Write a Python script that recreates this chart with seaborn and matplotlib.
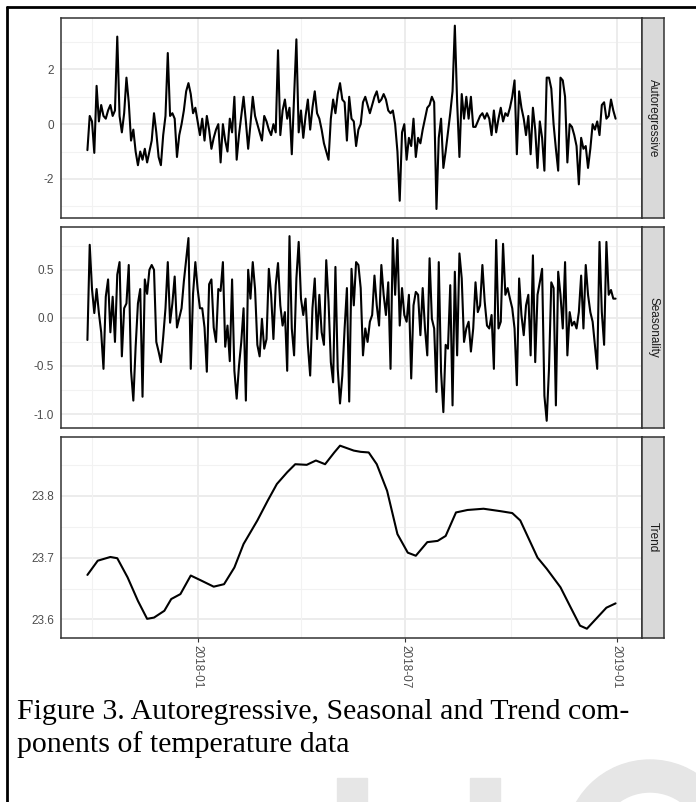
import pandas as pd
import numpy as np
import seaborn as sns
import matplotlib.pyplot as plt
from matplotlib.patches import Rectangle, Wedge

ar_values = [
    -0.95, 0.3, 0.1, -1.05, 1.4, 0.1, 0.7, 0.3, 0.2, 0.5,
    0.7, 0.3, 0.5, 3.2, 0.3, -0.3, 0.4, 1.7, 0.8, -0.6,
    -0.2, -1.0, -1.5, -1.0, -1.3, -0.9, -1.4, -1.0, -0.6, 0.4,
    -0.3, -1.2, -1.5, -0.4, 0.3, 2.6, 0.3, 0.4, 0.2, -1.2,
    -0.4, 0.0, 0.5, 1.2, 1.5, 1.1, 0.4, 0.6, 0.1, -0.4,
    0.2, -0.6, 0.3, -0.2, -0.9, -0.5, -0.2, 0.0, -1.4, 0.0,
    -0.6, -1.0, 0.2, -0.3, 1.0, -1.3, -0.4, 0.3, 1.0, 0.1,
    -0.9, 0.0, 1.0, 0.3, 0.0, -0.3, -0.6, 0.3, 0.1, -0.2,
    -0.4, 0.0, -0.3, 2.7, -0.4, 0.5, 0.9, 0.2, 0.6, -1.1,
    1.0, 3.1, -0.3, 0.5, -0.5, 0.3, 0.9, -0.2, 0.6, 1.2,
    0.4, 0.2, -0.2, -0.7, -1.0, -1.3, 0.2, 0.9, 0.4, 1.1,
    1.5, 0.9, 0.8, -0.6, 1.0, 0.2, 0.1, -0.8, -0.2, 0.0,
    0.8, 1.0, 0.7, 0.4, 0.7, 1.0, 1.2, 0.8, 0.9, 1.1,
    0.9, 0.5, 0.4, 0.5, 0.0, -1.0, -2.8, -0.3, 0.0, -1.3,
    -0.5, -0.8, 0.2, -1.2, -0.5, -0.7, -0.2, 0.2, 0.6, 0.7,
    1.0, 0.8, -3.1, -0.5, 0.2, -1.6, -1.0, -0.3, 0.4, 1.2,
    3.6, 0.8, -1.2, 1.1, 0.2, 1.0, 0.2, 1.0, -0.1, -0.1,
    0.1, 0.3, 0.4, 0.2, 0.4, 0.2, -0.4, 0.5, -0.3, 0.2,
    0.6, 0.1, 0.4, 0.3, 0.6, 1.0, 1.6, -1.1, 1.2, 0.6,
    0.2, -0.4, 0.3, -1.1, 0.6, -0.2, -1.6, 0.1, -0.5, -1.7,
    1.7, 1.7, 1.3, 0.0, -0.9, -1.7, 1.7, 1.6, 1.0, -1.4,
    0.0, -0.1, -0.4, -0.8, -2.2, -0.5, -0.9, -0.8, -1.6, -0.9,
    0.0, -0.2, 0.1, -0.4, 0.7, 0.8, 0.2, 0.3, 0.9, 0.5,
    0.2,
]

season_values = [
    -0.23, 0.76, 0.30, 0.05, 0.30, 0.05, -0.15, -0.53, 0.22, 0.40,
    -0.15, 0.22, -0.25, 0.45, 0.58, -0.40, 0.10, 0.15, 0.55, -0.55,
    -0.86, -0.30, 0.15, 0.30, -0.82, 0.40, 0.25, 0.50, 0.55, 0.50,
    -0.25, -0.35, -0.46, -0.20, 0.10, 0.58, -0.05, 0.15, 0.43, -0.10,
    0.00, 0.10, 0.38, 0.60, 0.83, -0.53, 0.25, 0.58, 0.30, 0.10,
    0.10, -0.10, -0.56, 0.35, 0.40, -0.10, -0.25, 0.30, 0.28, 0.58,
    -0.30, -0.08, -0.45, 0.40, -0.55, -0.84, -0.50, -0.25, 0.10, -0.86,
    0.50, 0.20, 0.58, 0.30, -0.28, -0.40, -0.01, -0.32, -0.22, 0.51,
    0.24, -0.22, 0.34, 0.57, 0.13, -0.08, 0.06, -0.55, 0.85, -0.11,
    -0.39, 0.41, 0.79, 0.20, 0.03, 0.20, -0.28, -0.60, 0.10, 0.41,
    -0.22, 0.24, -0.15, -0.28, 0.60, 0.17, -0.46, -0.67, 0.53, -0.53,
    -0.89, -0.60, -0.11, 0.31, -0.87, 0.51, 0.13, 0.58, 0.55, 0.31,
    -0.39, -0.11, -0.25, -0.04, 0.03, 0.44, 0.13, -0.08, 0.55, 0.24,
    0.03, 0.37, -0.53, 0.83, 0.24, 0.81, -0.08, 0.31, 0.03, -0.04,
    0.24, -0.63, 0.13, 0.27, 0.24, -0.18, 0.31, -0.11, -0.39, 0.62,
    -0.01, -0.11, -0.77, 0.58, -0.56, -0.98, -0.28, -0.32, 0.34, -0.91,
    0.48, -0.39, 0.67, 0.41, -0.25, -0.11, -0.04, -0.35, -0.11, 0.37,
    0.06, 0.13, 0.55, 0.17, -0.08, -0.11, 0.03, -0.53, 0.81, -0.11,
    -0.04, 0.77, 0.24, 0.31, 0.20, 0.10, -0.11, -0.70, 0.41, 0.03,
    -0.18, 0.13, 0.24, -0.39, 0.65, -0.46, 0.24, 0.37, 0.51, -0.81,
    -1.07, -0.53, 0.37, 0.31, -0.91, 0.48, 0.24, -0.11, 0.58, -0.39,
    0.06, -0.08, -0.04, -0.11, 0.06, 0.44, -0.11, 0.55, 0.24, 0.06,
    -0.04, -0.28, -0.53, 0.79, 0.06, -0.28, 0.79, 0.24, 0.29, 0.20,
    0.20,
]

trend_dates = [
    "2017-09-27", "2017-10-06", "2017-10-17", "2017-10-23", "2017-11-01",
    "2017-11-10", "2017-11-18", "2017-11-24", "2017-12-03", "2017-12-09",
    "2017-12-17", "2017-12-26", "2018-01-04", "2018-01-15", "2018-01-24",
    "2018-02-02", "2018-02-10", "2018-02-22", "2018-03-03", "2018-03-11",
    "2018-03-20", "2018-03-27", "2018-04-06", "2018-04-14", "2018-04-22",
    "2018-04-30", "2018-05-05", "2018-05-17", "2018-05-23", "2018-05-30",
    "2018-06-06", "2018-06-15", "2018-06-24", "2018-07-03", "2018-07-10",
    "2018-07-20", "2018-07-29", "2018-08-05", "2018-08-14", "2018-08-24",
    "2018-09-07", "2018-09-22", "2018-10-02", "2018-10-09", "2018-10-24",
    "2018-11-01", "2018-11-13", "2018-11-22", "2018-11-30", "2018-12-06",
    "2018-12-15", "2018-12-23", "2018-12-31",
]
trend_values = [
    23.672, 23.695, 23.701, 23.699, 23.668, 23.630, 23.601, 23.603, 23.614, 23.633,
    23.641, 23.671, 23.663, 23.653, 23.657, 23.684, 23.722, 23.760, 23.792, 23.819,
    23.838, 23.851, 23.850, 23.857, 23.851, 23.870, 23.881, 23.873, 23.871, 23.870,
    23.851, 23.808, 23.738, 23.708, 23.703, 23.725, 23.727, 23.735, 23.773, 23.777,
    23.779, 23.775, 23.772, 23.760, 23.700, 23.682, 23.652, 23.619, 23.590, 23.585,
    23.603, 23.619, 23.626,
]

panel_names = ["Autoregressive", "Seasonality", "Trend"]
x_ticks = ["2018-01-01", "2018-07-01", "2019-01-01"]
x_tick_labels = ["2018-01", "2018-07", "2019-01"]
x_minor = ["2017-10-01", "2018-04-01", "2018-10-01"]

ar_df = pd.DataFrame({"date": pd.date_range("2017-09-27", periods=len(ar_values), freq="2D"),
                      "value": ar_values})
season_df = pd.DataFrame({"date": pd.date_range("2017-09-27", periods=len(season_values), freq="2D"),
                          "value": season_values})
trend_df = pd.DataFrame({"date": pd.to_datetime(trend_dates), "value": trend_values})

sns.set_style("white")
plt.rcParams["font.family"] = ["Liberation Sans", "DejaVu Sans"]

W, H = 696, 802
fig = plt.figure(figsize=(W / 100, H / 100), dpi=100)

panels = [
    (ar_df, 18, 218, (-3.43, 3.88), [-2, 0, 2], ["-2", "0", "2"], [-3, -1, 1, 3]),
    (season_df, 227, 428, (-1.145, 0.945), [-1.0, -0.5, 0.0, 0.5], ["-1.0", "-0.5", "0.0", "0.5"],
     [-0.75, -0.25, 0.25, 0.75]),
    (trend_df, 437, 638, (23.570, 23.895), [23.6, 23.7, 23.8], ["23.6", "23.7", "23.8"],
     [23.65, 23.75, 23.85]),
]

xlim = (pd.Timestamp("2017-09-04"), pd.Timestamp("2019-01-23"))
x_major = pd.to_datetime(x_ticks)
x_min = pd.to_datetime(x_minor)

for k, (df, y0, y1, ylim, yt, ytl, ymin) in enumerate(panels):
    ax = fig.add_axes([61 / W, 1 - y1 / H, (642 - 61) / W, (y1 - y0) / H])
    for v in ymin:
        ax.axhline(v, color="#F2F2F2", lw=0.8, zorder=0)
    for v in yt:
        ax.axhline(v, color="#EBEBEB", lw=1.3, zorder=0)
    for d in x_min:
        ax.axvline(d, color="#F2F2F2", lw=0.8, zorder=0)
    for d in x_major:
        ax.axvline(d, color="#EBEBEB", lw=1.3, zorder=0)
    sns.lineplot(data=df, x="date", y="value", ax=ax, color="black", lw=1.5, zorder=3)
    ax.set_xlim(*xlim)
    ax.set_ylim(*ylim)
    ax.set_yticks(yt)
    ax.set_yticklabels(ytl, color="#4D4D4D", fontsize=8.5)
    ax.set_xlabel("")
    ax.set_ylabel("")
    ax.tick_params(axis="y", length=3, width=0.8, color="#333333", pad=2)
    if k == 2:
        ax.set_xticks(x_major)
        ax.set_xticklabels(x_tick_labels, rotation=-90, color="#4D4D4D", fontsize=8.5)
        ax.tick_params(axis="x", length=3, width=0.8, color="#333333", pad=2, bottom=True)
    else:
        ax.set_xticks([])
    for s in ax.spines.values():
        s.set_color("#333333")
        s.set_linewidth(1.1)

    sx = fig.add_axes([642 / W, 1 - y1 / H, 22 / W, (y1 - y0) / H])
    sx.set_facecolor("#D9D9D9")
    sx.set_xticks([])
    sx.set_yticks([])
    for s in sx.spines.values():
        s.set_color("#333333")
        s.set_linewidth(1.1)
    sx.text(0.5, 0.5, panel_names[k], rotation=-90, ha="center", va="center",
            fontsize=8.5, color="#1A1A1A", transform=sx.transAxes)

# caption
fig.text(17 / W, 1 - 699 / H, "Figure 3. Autoregressive, Seasonal and Trend com-",
         family="Liberation Serif", fontsize=21.5, color="black", va="top", ha="left")
fig.text(17 / W, 1 - 731 / H, "ponents of temperature data",
         family="Liberation Serif", fontsize=21.5, color="black", va="top", ha="left")

# light watermark shapes at the bottom
fig.patches.append(Rectangle((337 / W, 0), 30 / W, 24 / H, transform=fig.transFigure,
                             color="#E6E6E6", zorder=0))
fig.patches.append(Rectangle((470 / W, 0), 30 / W, 24 / H, transform=fig.transFigure,
                             color="#E6E6E6", zorder=0))
wm = fig.add_axes([0, 0, 1, 1], zorder=-1)
wm.set_xlim(0, W)
wm.set_ylim(H, 0)
wm.axis("off")
wm.add_patch(Wedge((650, 845), 85, 0, 360, width=32, color="#E6E6E6"))

# outer frame
fig.add_artist(plt.Line2D([7 / W, 7 / W], [0, 1 - 7 / H], color="black", lw=2, transform=fig.transFigure))
fig.add_artist(plt.Line2D([7 / W, 1], [1 - 7 / H, 1 - 7 / H], color="black", lw=2, transform=fig.transFigure))

fig.savefig("out.png", dpi=100)
